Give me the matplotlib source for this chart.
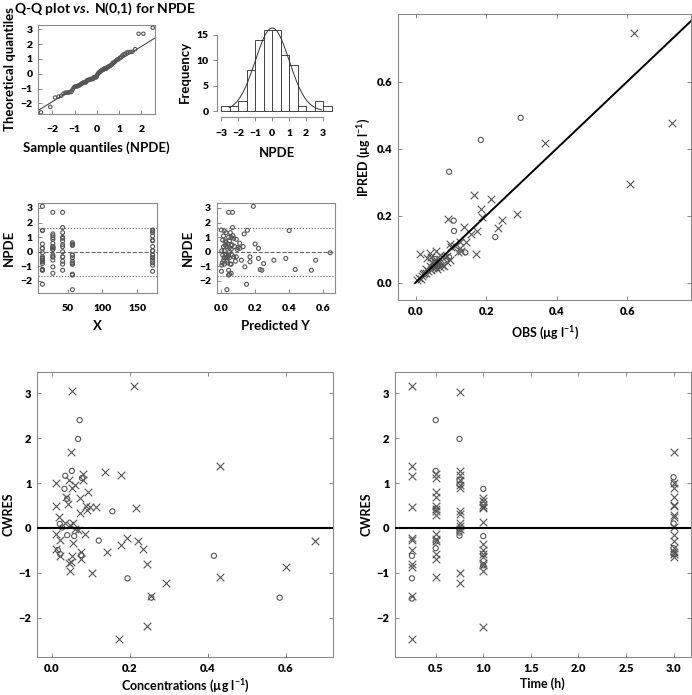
import matplotlib
matplotlib.use('Agg')
import matplotlib.pyplot as plt
import numpy as np
from statistics import NormalDist
from matplotlib.ticker import FormatStrFormatter

plt.rcParams['font.family'] = ['Lato', 'DejaVu Sans']
plt.rcParams['font.weight'] = 'bold'
plt.rcParams['axes.labelweight'] = 'bold'
plt.rcParams['mathtext.fontset'] = 'custom'
plt.rcParams['mathtext.rm'] = 'Lato:bold'
plt.rcParams['mathtext.it'] = 'Lato:italic:bold'
plt.rcParams['mathtext.bf'] = 'Lato:bold'

# NPDE per sampling time (min) and matching predicted Y
npde_times = [14, 29, 43, 57, 172]
npde_by_time = [
    [3.11, 1.47, 1.45, 0.53, 0.23, -0.07, -0.35, -0.46, -0.58, -0.69, -0.81, -1.22, -1.27, -2.23,
     -1.27, -1.22, -0.58, -0.46, 0.23],
    [2.7, 1.22, 1.1, 0.97, 0.85, 0.58, 0.35, 0.28, 0.16, -0.23, -0.35, -0.58, -1.04, -1.48,
     -0.35, 0.35, 0.16, 0.28],
    [2.7, 1.66, 1.31, 0.99, 0.92, 0.74, 0.48, 0.35, 0.0, -0.35, -0.65, -0.85, -1.27, -0.35],
    [0.62, 0.53, 0.44, -0.23, -0.41, -0.64, -0.76, -0.85, -1.54, -1.6, -2.6, -0.85, -0.23, 0.44],
    [1.49, 1.43, 1.31, 1.08, 0.8, 0.74, 0.35, 0.07, -0.23, -0.41, -0.58, -0.76, -0.92, -1.34,
     -0.41, -0.23, 0.07],
]
pred_by_time = [
    [0.19, 0.155, 0.40, 0.20, 0.22, 0.64, 0.17, 0.22, 0.555, 0.17, 0.25, 0.23, 0.53, 0.15,
     0.24, 0.435, 0.31, 0.38, 0.11],
    [0.045, 0.136, 0.07, 0.06, 0.09, 0.11, 0.08, 0.05, 0.095, 0.065, 0.075, 0.12, 0.14, 0.06,
     0.04, 0.13, 0.06, 0.10],
    [0.068, 0.068, 0.055, 0.045, 0.075, 0.05, 0.065, 0.035, 0.05, 0.04, 0.085, 0.06, 0.045, 0.09],
    [0.03, 0.04, 0.025, 0.03, 0.05, 0.035, 0.04, 0.02, 0.05, 0.045, 0.035, 0.055, 0.045, 0.06],
    [0.002, 0.02, 0.03, 0.015, 0.01, 0.025, 0.015, 0.005, 0.01, 0.02, 0.015, 0.008, 0.005, 0.003,
     0.03, 0.025, 0.02],
]

# IPRED vs OBS
obs_cross = [0.619, 0.727, 0.366, 0.608, 0.166, 0.214, 0.185, 0.287, 0.092, 0.187, 0.246, 0.138,
             0.175, 0.233, 0.158, 0.012, 0.171, 0.125, 0.125, 0.097, 0.121, 0.058, 0.041, 0.033,
             0.045, 0.069, 0.083, 0.097, 0.088, 0.061, 0.076, 0.069, 0.055, 0.045, 0.036, 0.024,
             0.017, 0.010, 0.005, 0.029, 0.058, 0.064, 0.020, 0.030, 0.050, 0.070, 0.080, 0.015,
             0.040, 0.060, 0.100, 0.112, 0.090, 0.142, 0.130, 0.053, 0.046]
ipred_cross = [0.744, 0.478, 0.417, 0.293, 0.261, 0.251, 0.219, 0.206, 0.191, 0.197, 0.187, 0.167,
               0.154, 0.164, 0.144, 0.086, 0.086, 0.122, 0.102, 0.115, 0.090, 0.093, 0.088, 0.073,
               0.076, 0.083, 0.076, 0.068, 0.060, 0.063, 0.053, 0.046, 0.053, 0.038, 0.036, 0.028,
               0.020, 0.013, 0.008, 0.040, 0.046, 0.058, 0.025, 0.030, 0.045, 0.070, 0.050, 0.010,
               0.050, 0.040, 0.105, 0.110, 0.080, 0.120, 0.095, 0.065, 0.060]
obs_circle = [0.298, 0.185, 0.095, 0.108, 0.109, 0.226, 0.141, 0.095, 0.055, 0.061, 0.070]
ipred_circle = [0.492, 0.426, 0.331, 0.185, 0.154, 0.136, 0.090, 0.076, 0.070, 0.048, 0.052]

# CWRES vs concentration
conc_cross = [0.051, 0.21, 0.05, 0.431, 0.137, 0.176, 0.08, 0.011, 0.043, 0.06, 0.051, 0.079, 0.093,
              0.037, 0.073, 0.01, 0.041, 0.088, 0.097, 0.114, 0.217, 0.071, 0.09, 0.017, 0.034,
              0.047, 0.054, 0.06, 0.066, 0.011, 0.084, 0.021, 0.193, 0.22, 0.054, 0.178, 0.234,
              0.009, 0.141, 0.075, 0.02, 0.051, 0.074, 0.043, 0.049, 0.045, 0.244, 0.103, 0.431,
              0.6, 0.675, 0.294, 0.255, 0.244, 0.173]
cwres_cross = [3.04, 3.15, 1.70, 1.385, 1.25, 1.18, 1.2, 1.0, 1.07, 0.96, 0.89, 1.07, 0.81,
               0.7, 0.67, 0.5, 0.53, 0.48, 0.46, 0.46, 0.45, 0.33, 0.39, 0.25, 0.1,
               0.07, 0.1, -0.03, -0.05, -0.14, -0.13, -0.27, -0.23, -0.28, -0.34, -0.38, -0.47,
               -0.47, -0.53, -0.53, -0.62, -0.62, -0.69, -0.79, -0.75, -0.95, -0.81, -1.01, -1.09,
               -0.86, -0.28, -1.22, -1.51, -2.19, -2.48]
conc_circle = [0.071, 0.067, 0.051, 0.034, 0.077, 0.032, 0.039, 0.155, 0.02, 0.026, 0.039, 0.057,
               0.12, 0.015, 0.021, 0.075, 0.416, 0.194, 0.255, 0.585]
cwres_circle = [2.4, 1.98, 1.27, 1.16, 1.11, 0.87, 0.65, 0.37, 0.09, 0.01, -0.16, -0.18,
                -0.28, -0.49, -0.58, -0.6, -0.62, -1.12, -1.55, -1.55]

# CWRES vs time
times = [0.25, 0.5, 0.75, 1.0, 3.0]
cw_cross_by_time = [
    [3.15, 1.385, 1.16, 0.46, -0.23, -0.27, -0.48, -0.81, -0.86, -1.51, -2.48],
    [1.19, 1.11, 0.8, 0.68, 0.5, 0.43, 0.37, 0.3, -0.14, -0.25, -0.3, -0.57, -0.7, -1.09],
    [3.02, 1.26, 1.18, 1.07, 0.96, 0.89, 0.37, 0.31, 0.1, 0.04, -0.03, -1.01, -1.23],
    [0.67, 0.59, 0.52, 0.46, 0.44, 0.13, -0.36, -0.49, -0.58, -0.64, -0.79, -0.83, -0.95, -2.2],
    [1.70, 0.99, 0.89, 0.7, 0.52, 0.48, 0.3, 0.24, 0.03, -0.16, -0.3, -0.45, -0.53, -0.58, -0.65],
]
cw_circle_by_time = [
    [-0.62, -1.12, -1.57],
    [2.4, 1.27, 0.43, -0.3, -0.45],
    [1.98, 1.07, 0.96, -0.03, -0.1, -0.17],
    [0.87, 0.52, -0.18, -0.58, -0.83],
    [1.13, 0.99, 0.1, -0.45, -0.58],
]

W, H = 692, 695
fig = plt.figure(figsize=(W / 100, H / 100), dpi=100)
GREY = '#8a8a8a'
MK = '#555555'
SMALL_LBL = 9.5


def box(l, t, r, b):
    return fig.add_axes([l / W, 1 - b / H, (r - l) / W, (b - t) / H])


def style(ax, fs=8, allsides=True, xpad=4):
    for s in ax.spines.values():
        s.set_color(GREY)
        s.set_linewidth(0.8)
    ax.tick_params(direction='in', top=allsides, right=allsides, length=3, width=0.7,
                   color=GREY, labelsize=fs, pad=4)
    ax.tick_params(axis='x', pad=xpad)


def crosses(ax, x, y):
    ax.scatter(x, y, marker='x', s=30, c=MK, linewidths=0.8, zorder=3)


def circles(ax, x, y, s=14):
    ax.scatter(x, y, marker='o', s=s, facecolors='none', edgecolors=MK, linewidths=0.8, zorder=3)


npde_all = np.concatenate(npde_by_time)
nd = NormalDist()

# Q-Q plot
ax = box(38, 25, 155, 114)
style(ax, 7.5, allsides=False, xpad=8)
ys = np.sort(npde_all)
n = len(ys)
xs = np.array([nd.inv_cdf((i + 0.5) / n) for i in range(n)])
circles(ax, xs, ys, s=6)
q1, q3 = np.percentile(ys, [25, 75])
t1, t3 = nd.inv_cdf(0.25), nd.inv_cdf(0.75)
slope = (q3 - q1) / (t3 - t1)
ax.axline((0, q1 - slope * t1), slope=slope, color='#333333', lw=0.7)
ax.set_xlim(-2.64, 2.61)
ax.set_ylim(-2.71, 3.29)
ax.set_xticks([-2, -1, 0, 1, 2])
ax.set_yticks([-2, -1, 0, 1, 2, 3])
ax.set_xlabel('Sample quantiles (NPDE)', fontsize=SMALL_LBL, labelpad=5)
ax.set_ylabel('Theoretical quantiles', fontsize=SMALL_LBL, labelpad=3)
fig.text(14 / W, 1 - 9 / H, r'Q-Q plot $\it{vs.}$ N(0,1) for NPDE', fontsize=10,
         va='center', ha='left')

# Histogram
ax = box(217, 26.6, 336, 116.7)
bins = np.arange(-3, 3.51, 0.5)
ax.hist(npde_all, bins=bins, facecolor='white', edgecolor='#444444', linewidth=0.7)
xx = np.linspace(-2.55, 2.9, 200)
ax.plot(xx, n * 0.5 * np.exp(-xx ** 2 / 2) / np.sqrt(2 * np.pi), color='#333333', lw=0.7)
ax.set_xlim(-3.26, 3.76)
ax.set_ylim(-1.12, 16.64)
ax.spines['top'].set_visible(False)
ax.spines['right'].set_visible(False)
ax.spines['left'].set_bounds(0, 15)
ax.spines['bottom'].set_bounds(-3, 3)
for s in ('left', 'bottom'):
    ax.spines[s].set_color(GREY)
    ax.spines[s].set_linewidth(0.8)
ax.tick_params(direction='out', length=3, width=0.7, color=GREY, labelsize=7.5, pad=3)
ax.tick_params(axis='x', pad=6)
ax.set_xticks(range(-3, 4))
ax.set_yticks([0, 5, 10, 15])
ax.set_xlabel('NPDE', fontsize=SMALL_LBL, labelpad=6)
ax.set_ylabel('Frequency', fontsize=SMALL_LBL, labelpad=4)

# NPDE vs X
lim90 = nd.inv_cdf(0.95)
ax = box(38, 203, 157, 293)
style(ax, 7.5, allsides=False, xpad=8)
for t, v in zip(npde_times, npde_by_time):
    circles(ax, [t] * len(v), v, s=8)
ax.axhline(0, ls='--', color='#666666', lw=0.8)
ax.axhline(lim90, ls=':', color='#666666', lw=0.8)
ax.axhline(-lim90, ls=':', color='#666666', lw=0.8)
ax.set_xlim(7.7, 178.3)
ax.set_ylim(-2.83, 3.34)
ax.set_xticks([50, 100, 150])
ax.set_yticks([-2, -1, 0, 1, 2, 3])
ax.set_xlabel('X', fontsize=SMALL_LBL, labelpad=5)
ax.set_ylabel('NPDE', fontsize=SMALL_LBL, labelpad=4)

# NPDE vs predicted
ax = box(216.5, 203, 334.6, 293)
style(ax, 7.5, allsides=False, xpad=8)
for p, v in zip(pred_by_time, npde_by_time):
    circles(ax, p, v, s=8)
ax.axhline(0, ls='--', color='#666666', lw=0.8)
ax.axhline(lim90, ls=':', color='#666666', lw=0.8)
ax.axhline(-lim90, ls=':', color='#666666', lw=0.8)
ax.set_xlim(-0.026, 0.666)
ax.set_ylim(-2.83, 3.34)
ax.set_xticks([0, 0.2, 0.4, 0.6])
ax.xaxis.set_major_formatter(FormatStrFormatter('%.1f'))
ax.set_yticks([-2, -1, 0, 1, 2, 3])
ax.set_xlabel('Predicted Y', fontsize=SMALL_LBL, labelpad=5)
ax.set_ylabel('NPDE', fontsize=SMALL_LBL, labelpad=4)

# IPRED vs OBS
ax = box(398.3, 14, 691, 300)
style(ax)
crosses(ax, obs_cross, ipred_cross)
circles(ax, obs_circle, ipred_circle)
ax.plot([0, 0.85], [0, 0.85], color='black', lw=1.4, zorder=4)
ax.set_xlim(-0.049, 0.781)
ax.set_ylim(-0.052, 0.802)
ax.set_xticks([0, 0.2, 0.4, 0.6])
ax.set_yticks([0, 0.2, 0.4, 0.6])
ax.xaxis.set_major_formatter(FormatStrFormatter('%.1f'))
ax.yaxis.set_major_formatter(FormatStrFormatter('%.1f'))
ax.set_xlabel('OBS (µg l$^{-1}$)', fontsize=9, labelpad=6)
ax.set_ylabel('IPRED (µg l$^{-1}$)', fontsize=9, labelpad=3)

# CWRES vs concentration
ax = box(37, 372, 333, 657)
style(ax)
crosses(ax, conc_cross, cwres_cross)
circles(ax, conc_circle, cwres_circle)
ax.axhline(0, color='black', lw=1.5, zorder=4)
ax.set_xlim(-0.0386, 0.722)
ax.set_ylim(-2.87, 3.47)
ax.set_xticks([0, 0.2, 0.4, 0.6])
ax.xaxis.set_major_formatter(FormatStrFormatter('%.1f'))
ax.set_yticks([-2, -1, 0, 1, 2, 3])
ax.set_xlabel('Concentrations (µg l$^{-1}$)', fontsize=9, labelpad=3)
ax.set_ylabel('CWRES', fontsize=9, labelpad=3)

# CWRES vs time
ax = box(395, 372, 690.7, 657)
style(ax)
for t, v in zip(times, cw_cross_by_time):
    crosses(ax, [t] * len(v), v)
for t, v in zip(times, cw_circle_by_time):
    circles(ax, [t] * len(v), v)
ax.axhline(0, color='black', lw=1.5, zorder=4)
ax.set_xlim(0.072, 3.18)
ax.set_ylim(-2.87, 3.47)
ax.set_xticks([0.5, 1.0, 1.5, 2.0, 2.5, 3.0])
ax.xaxis.set_major_formatter(FormatStrFormatter('%.1f'))
ax.set_yticks([-2, -1, 0, 1, 2, 3])
ax.set_xlabel('Time (h)', fontsize=9, labelpad=3)
ax.set_ylabel('CWRES', fontsize=9, labelpad=3)

# heavier tick labels, set after a draw so every tick exists
fig.canvas.draw()
for a in fig.axes:
    for lbl in a.get_xticklabels() + a.get_yticklabels():
        lbl.set_fontweight('heavy')

fig.savefig('out.png', dpi=100)
